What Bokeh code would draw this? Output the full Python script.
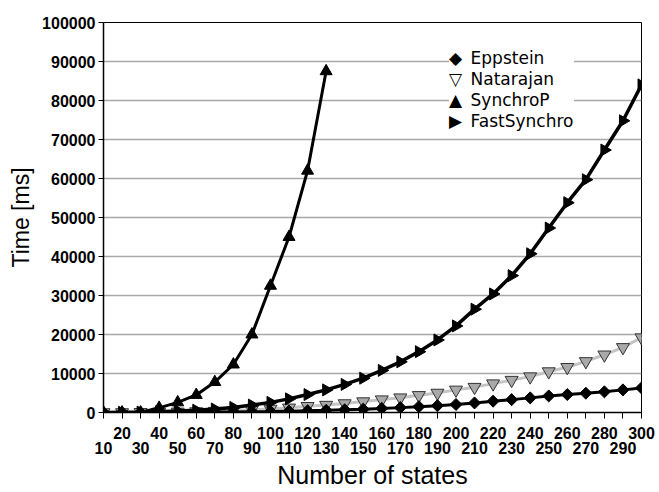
import math
from bokeh.plotting import figure
from bokeh.models import (Range1d, FixedTicker, LinearAxis, Legend, LegendItem,
                          BasicTickFormatter, ColumnDataSource)
from bokeh.embed import file_html
from bokeh.resources import INLINE

# ---- data ----
states = [10, 20, 30, 40, 50, 60, 70, 80, 90, 100, 110, 120, 130, 140, 150,
          160, 170, 180, 190, 200, 210, 220, 230, 240, 250, 260, 270, 280, 290, 300]
eppstein = [0, 0, 10, 20, 40, 60, 100, 150, 200, 250, 350, 450, 550, 700, 850,
            1050, 1250, 1500, 1750, 2050, 2450, 2900, 3300, 3750, 4250, 4600, 4950, 5300, 5800, 6300]
natarajan = [0, 0, 50, 100, 150, 250, 350, 500, 700, 900, 1200, 1600, 1900, 2300, 2800,
             3300, 3800, 4400, 5000, 5800, 6500, 7400, 8300, 9200, 10500, 11600, 13100, 14800, 16700, 19200]
synchrop_states = [10, 20, 30, 40, 50, 60, 70, 80, 90, 100, 110, 120, 130]
synchrop = [0, 0, 0, 1200, 2600, 4500, 7800, 12300, 20000, 32500, 45000, 62000, 87500]
fastsynchro = [0, 50, 100, 200, 400, 600, 900, 1300, 1900, 2600, 3500, 4600, 5800, 7200, 8800,
               10800, 13000, 15600, 18600, 22200, 26500, 30400, 35100, 40700, 47300, 53800, 59700, 67300, 74800, 84000]

series_names = ["Eppstein", "Natarajan", "SynchroP", "FastSynchro"]
legend_symbols = ["\u25C6", "\u25BD", "\u25B2", "\u25B6"]

y_ticks = [0, 10000, 20000, 30000, 40000, 50000, 60000, 70000, 80000, 90000, 100000]
x_ticks_upper = states[1::2]   # 20, 40, ... 300
x_ticks_lower = states[0::2]   # 10, 30, ... 290

FONT = "Liberation Sans"

p = figure(width=659, height=492, output_backend="svg", toolbar_location=None,
           x_range=Range1d(10, 300), y_range=Range1d(0, 100000),
           x_axis_location=None, y_axis_location="left",
           min_border_left=103, min_border_right=18, min_border_top=22, min_border_bottom=80)
p.background_fill_color = "white"
p.border_fill_color = "white"
p.outline_line_color = "black"
p.outline_line_width = 1

# y axis
ya = p.yaxis[0]
ya.ticker = FixedTicker(ticks=y_ticks)
ya.formatter = BasicTickFormatter(use_scientific=False)
ya.axis_line_color = "black"
ya.axis_line_width = 1.5
ya.major_tick_out = 5
ya.major_tick_in = 0
ya.minor_tick_out = 0
ya.minor_tick_in = 0
ya.major_tick_line_color = "black"
ya.major_label_standoff = 3
ya.major_label_text_font = FONT
ya.major_label_text_font_style = "bold"
ya.major_label_text_font_size = "16px"
ya.major_label_text_color = "black"
ya.axis_label = "Time [ms]"
ya.axis_label_text_font = FONT
ya.axis_label_text_font_style = "normal"
ya.axis_label_text_font_size = "23px"
ya.axis_label_text_color = "black"
ya.axis_label_standoff = 5

p.ygrid.grid_line_color = "#a8a8a8"
p.ygrid.grid_line_width = 1.5
p.xgrid.grid_line_color = None

# x axes: two label rows
ax1 = LinearAxis(ticker=FixedTicker(ticks=x_ticks_upper, minor_ticks=x_ticks_lower),
                 formatter=BasicTickFormatter(use_scientific=False))
ax1.axis_line_color = "black"
ax1.axis_line_width = 1.5
ax1.major_tick_out = 6
ax1.major_tick_in = 0
ax1.minor_tick_out = 6
ax1.minor_tick_in = 0
ax1.major_tick_line_color = "black"
ax1.minor_tick_line_color = "black"
ax1.major_label_standoff = 8
ax1.major_label_text_font = FONT
ax1.major_label_text_font_style = "bold"
ax1.major_label_text_font_size = "16px"
ax1.major_label_text_line_height = 1.0
ax1.major_label_text_color = "black"

ax2 = LinearAxis(ticker=FixedTicker(ticks=x_ticks_lower),
                 formatter=BasicTickFormatter(use_scientific=False))
ax2.axis_line_color = None
ax2.major_tick_out = 0
ax2.major_tick_in = 0
ax2.minor_tick_out = 0
ax2.minor_tick_in = 0
ax2.major_tick_line_color = None
ax2.minor_tick_line_color = None
ax2.major_label_standoff = 0
ax2.major_label_text_font = FONT
ax2.major_label_text_font_style = "bold"
ax2.major_label_text_font_size = "16px"
ax2.major_label_text_line_height = 1.0
ax2.major_label_text_color = "black"
ax2.axis_label = "Number of states"
ax2.axis_label_text_font = FONT
ax2.axis_label_text_font_style = "normal"
ax2.axis_label_text_font_size = "25px"
ax2.axis_label_text_line_height = 1.0
ax2.axis_label_text_color = "black"
ax2.axis_label_standoff = 4

p.add_layout(ax1, "below")
p.add_layout(ax2, "below")

# ---- series ----
src_e = ColumnDataSource(dict(x=states, y=eppstein))
src_n = ColumnDataSource(dict(x=states, y=natarajan))
src_s = ColumnDataSource(dict(x=synchrop_states, y=synchrop))
src_f = ColumnDataSource(dict(x=states, y=fastsynchro))

l_n = p.line("x", "y", source=src_n, line_color="#c4c4c4", line_width=3)
p.scatter("x", "y", source=src_n, marker="inverted_triangle", size=13,
          fill_color="#a9a9a9", line_color="#333333", line_width=1)

l_e = p.line("x", "y", source=src_e, line_color="black", line_width=3)
p.scatter("x", "y", source=src_e, marker="square", angle=math.pi / 4, size=8.5,
          fill_color="black", line_color="black")

l_f = p.line("x", "y", source=src_f, line_color="black", line_width=3.5)
p.scatter("x", "y", source=src_f, marker="triangle", angle=-math.pi / 2, size=12,
          fill_color="black", line_color="black")

l_s = p.line("x", "y", source=src_s, line_color="black", line_width=3)
p.scatter("x", "y", source=src_s, marker="triangle", size=12,
          fill_color="black", line_color="black")

# legend: marker symbols as text (glyph area of zero width)
renderers = [l_e, l_n, l_s, l_f]
items = [LegendItem(label=sym + "\u2002" + name, renderers=[r])
         for sym, name, r in zip(legend_symbols, series_names, renderers)]
leg = Legend(items=items, location=(346, 281), margin=0, padding=15, spacing=0,
             glyph_width=0, glyph_height=21, label_height=21, label_standoff=0,
             border_line_color=None, background_fill_color="white", background_fill_alpha=1,
             label_text_font="DejaVu Sans", label_text_font_size="17px", label_text_color="black")
p.add_layout(leg, "center")

open("out.html", "w").write(file_html(p, INLINE))
